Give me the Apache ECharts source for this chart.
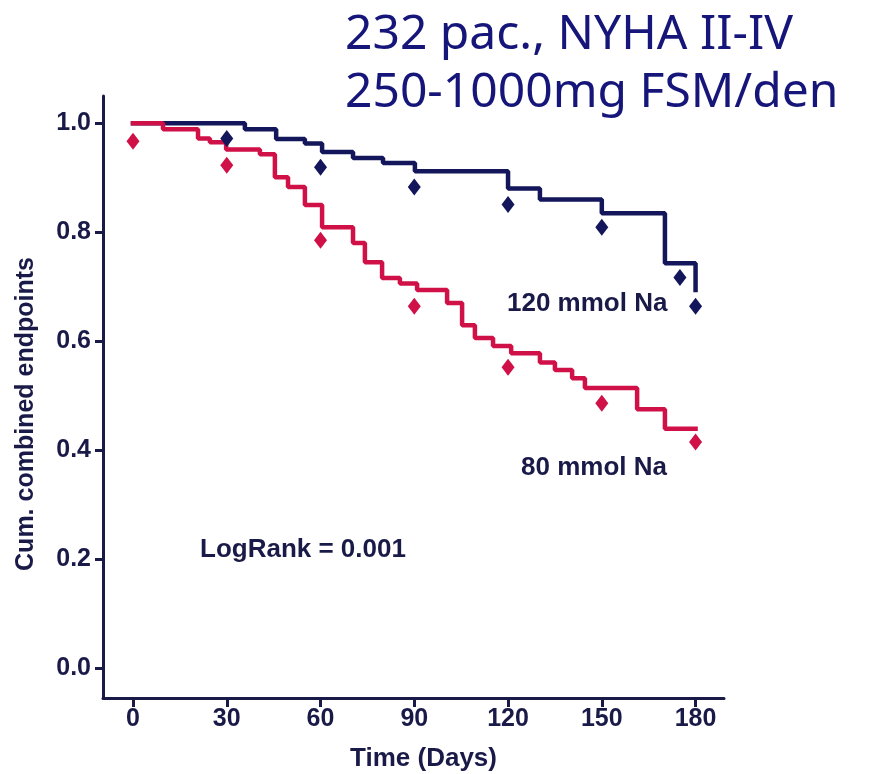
<!DOCTYPE html>
<html>
<head>
<meta charset="utf-8">
<script src="https://cdn.jsdelivr.net/npm/echarts@6/dist/echarts.min.js"></script>
<style>
  html, body { margin: 0; padding: 0; background: #ffffff; }
  #chart { width: 876px; height: 774px; }
</style>
</head>
<body>
<div id="chart"></div>
<script>
// Kaplan–Meier step curves: [day, cumulative survival after the event]
const stepsNa120 = [
  [0, 1.0], [35.8, 0.989], [45.8, 0.971], [55.0, 0.963], [60.5, 0.947],
  [70.4, 0.936], [80.0, 0.927], [90.2, 0.912], [120.0, 0.880], [130.2, 0.860],
  [150.0, 0.835], [170.2, 0.743], [180.0, 0.694]
];
const stepsNa80 = [
  [0, 1.0], [9.6, 0.989], [20.8, 0.972], [24.6, 0.965], [29.8, 0.952],
  [40.6, 0.943], [45.4, 0.901], [49.6, 0.883], [55.0, 0.850], [60.5, 0.809],
  [70.4, 0.780], [74.2, 0.745], [79.7, 0.716], [85.4, 0.706], [90.9, 0.694],
  [100.5, 0.670], [105.3, 0.629], [109.4, 0.606], [115.2, 0.591], [121.0, 0.578],
  [130.2, 0.561], [135.0, 0.547], [140.5, 0.532], [144.6, 0.514], [161.3, 0.475],
  [170.2, 0.439], [180.0, 0.439]
];
// Observed values at visits (diamonds)
const pointsNa120 = [
  [30, 0.972], [60, 0.919], [90, 0.883], [120, 0.851], [150, 0.809], [175, 0.717], [180, 0.664]
];
const pointsNa80 = [
  [0, 0.967], [30, 0.923], [60, 0.785], [90, 0.664], [120, 0.552], [150, 0.486], [180, 0.415]
];
const xTicks = [0, 30, 60, 90, 120, 150, 180];
const yTicks = [0, 0.2, 0.4, 0.6, 0.8, 1.0];
const titleLines = ['232 pac., NYHA II-IV', '250-1000mg FSM/den'];
const groupLabels = ['120 mmol Na', '80 mmol Na'];
const statText = 'LogRank = 0.001';

const NAVY = '#13165a';
const CRIMSON = '#cf1148';
const AXIS = '#1a1a48';
const LABEL_FONT = '"Liberation Sans", Arial, sans-serif';

const chart = echarts.init(document.getElementById('chart'), null, { renderer: 'canvas' });

chart.setOption({
  animation: false,
  backgroundColor: '#ffffff',
  grid: { left: 103, right: 152, top: 96, bottom: 76, containLabel: false, outerBoundsMode: 'none' },
  xAxis: {
    type: 'value',
    min: -9.6,
    max: 189.1,
    name: 'Time (Days)',
    nameLocation: 'middle',
    nameGap: 48,
    nameTextStyle: {
      color: AXIS, fontFamily: LABEL_FONT, fontWeight: 'bold', fontSize: 26,
      padding: [0, 0, 0, 20]
    },
    axisLine: { show: true, onZero: false, lineStyle: { color: AXIS, width: 3 } },
    axisTick: { show: true, customValues: xTicks, length: 9, lineStyle: { color: AXIS, width: 3 } },
    axisLabel: {
      customValues: xTicks, color: AXIS, fontFamily: LABEL_FONT, fontWeight: 'bold',
      fontSize: 25, margin: 9
    },
    splitLine: { show: false }
  },
  yAxis: {
    type: 'value',
    min: -0.055,
    max: 1.05,
    name: 'Cum. combined endpoints',
    nameLocation: 'middle',
    nameRotate: 90,
    nameGap: 64,
    nameTextStyle: {
      color: AXIS, fontFamily: LABEL_FONT, fontWeight: 'bold', fontSize: 25,
      padding: [0, 34, 0, 0]
    },
    axisLine: { show: true, onZero: false, lineStyle: { color: AXIS, width: 3 } },
    axisTick: { show: true, customValues: yTicks, length: 8, lineStyle: { color: AXIS, width: 3 } },
    axisLabel: {
      customValues: yTicks, color: AXIS, fontFamily: LABEL_FONT, fontWeight: 'bold',
      fontSize: 25, margin: 12, formatter: v => v.toFixed(1)
    },
    splitLine: { show: false }
  },
  series: [
    {
      name: '120 mmol Na', type: 'line', step: 'end', data: stepsNa120,
      showSymbol: false, lineStyle: { color: NAVY, width: 4.5, cap: 'square' }, z: 2
    },
    {
      name: '80 mmol Na', type: 'line', step: 'end', data: stepsNa80,
      showSymbol: false, lineStyle: { color: CRIMSON, width: 4.5, cap: 'square' }, z: 3
    },
    {
      type: 'scatter', data: pointsNa120, symbol: 'diamond', symbolSize: [13, 17],
      itemStyle: { color: NAVY, opacity: 1 }, z: 4
    },
    {
      type: 'scatter', data: pointsNa80, symbol: 'diamond', symbolSize: [13, 17],
      itemStyle: { color: CRIMSON, opacity: 1 }, z: 4
    }
  ],
  graphic: [
    { type: 'text', left: 345, top: 11, style: { text: titleLines[0], fill: '#15157a', font: '48px "Noto Sans", "Open Sans", sans-serif' } },
    { type: 'text', left: 345, top: 69, style: { text: titleLines[1], fill: '#15157a', font: '48px "Noto Sans", "Open Sans", sans-serif' } },
    { type: 'text', left: 507, top: 291, style: { text: groupLabels[0], fill: AXIS, font: 'bold 26px ' + LABEL_FONT } },
    { type: 'text', left: 521, top: 455, style: { text: groupLabels[1], fill: AXIS, font: 'bold 26px ' + LABEL_FONT } },
    { type: 'text', left: 200, top: 537, style: { text: statText, fill: AXIS, font: 'bold 26px ' + LABEL_FONT } }
  ]
});
</script>
</body>
</html>
